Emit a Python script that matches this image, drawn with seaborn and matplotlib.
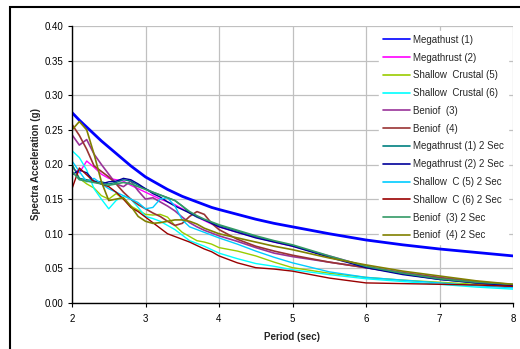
import matplotlib
matplotlib.use('Agg')
import matplotlib.pyplot as plt
import seaborn as sns
from matplotlib.patches import Rectangle

# Periodo (sec)
periodos = [2.0, 2.1, 2.2, 2.3, 2.4, 2.5, 2.6, 2.7, 2.8, 2.9, 3.0, 3.1, 3.2, 3.3, 3.4, 3.5,
            3.6, 3.7, 3.8, 3.9, 4.0, 4.25, 4.5, 4.75, 5.0, 5.5, 6.0, 6.5, 7.0, 7.5, 8.0]

# Aceleracion espectral (g)
megathust_1 = [.275, .264, .254, .244, .234, .225, .216, .207, .198, .190, .182, .176, .170, .164, .159, .154,
               .150, .146, .142, .138, .135, .128, .121, .115, .110, .100, .091, .084, .078, .073, .068]
megathrust_2 = [.195, .188, .205, .196, .186, .180, .178, .176, .170, .165, .160, .155, .150, .146, .142, .136,
                .130, .124, .119, .114, .110, .102, .095, .088, .082, .068, .053, .044, .036, .030, .025]
shallow_5 = [.200, .180, .172, .166, .155, .150, .158, .150, .140, .134, .128, .127, .128, .124, .112, .102,
             .096, .090, .088, .085, .080, .075, .068, .059, .051, .043, .037, .033, .030, .027, .025]
shallow_6 = [.220, .210, .192, .165, .150, .136, .148, .155, .150, .138, .125, .122, .118, .112, .106, .098,
             .090, .086, .082, .077, .072, .064, .057, .053, .048, .041, .035, .031, .027, .023, .020]
beniof_3 = [.243, .228, .236, .215, .200, .186, .172, .168, .176, .162, .150, .152, .146, .140, .133, .124,
            .116, .110, .105, .101, .097, .089, .080, .072, .067, .059, .051, .044, .037, .031, .026]
beniof_4 = [.258, .242, .222, .198, .190, .182, .172, .160, .150, .142, .136, .130, .125, .118, .112, .115,
            .125, .132, .128, .115, .106, .092, .082, .075, .069, .059, .051, .043, .036, .029, .023]
megathrust_1_2s = [.200, .180, .178, .176, .175, .172, .174, .178, .176, .170, .165, .160, .156, .152, .148, .140,
                   .130, .124, .120, .116, .112, .104, .096, .089, .083, .067, .052, .042, .034, .029, .026]
megathrust_2_2s = [.185, .192, .188, .176, .172, .175, .176, .180, .178, .172, .165, .158, .153, .146, .140, .135,
                   .130, .125, .120, .115, .110, .102, .094, .088, .082, .066, .051, .041, .034, .029, .025]
shallow_5_2s = [.205, .190, .175, .180, .172, .165, .160, .155, .150, .145, .136, .138, .150, .152, .140, .120,
                .110, .106, .102, .098, .094, .085, .075, .066, .058, .045, .037, .033, .029, .025, .022]
shallow_6_2s = [.165, .195, .185, .175, .172, .168, .160, .150, .138, .132, .124, .116, .108, .100, .096, .092,
                .088, .083, .078, .074, .068, .058, .051, .049, .046, .036, .029, .028, .027, .026, .024]
beniof_3_2s = [.190, .178, .176, .174, .172, .170, .172, .174, .172, .168, .164, .160, .156, .152, .148, .140,
               .132, .126, .121, .117, .113, .105, .097, .090, .084, .068, .053, .043, .035, .030, .027]
beniof_4_2s = [.250, .262, .250, .215, .175, .148, .150, .152, .140, .125, .118, .115, .116, .118, .120, .120,
               .118, .114, .108, .104, .100, .094, .088, .082, .077, .065, .055, .046, .039, .032, .027]

series = [
    ('Megathust (1)', megathust_1, '#0000FF', 2.0),
    ('Megathrust (2)', megathrust_2, '#FF00FF', 1.0),
    ('Shallow  Crustal (5)', shallow_5, '#99CC00', 1.0),
    ('Shallow  Crustal (6)', shallow_6, '#00FFFF', 1.0),
    ('Beniof  (3)', beniof_3, '#993399', 1.2),
    ('Beniof  (4)', beniof_4, '#993333', 1.2),
    ('Megathrust (1) 2 Sec', megathrust_1_2s, '#008080', 1.0),
    ('Megathrust (2) 2 Sec', megathrust_2_2s, '#000099', 1.0),
    ('Shallow  C (5) 2 Sec', shallow_5_2s, '#00CCFF', 1.0),
    ('Shallow  C (6) 2 Sec', shallow_6_2s, '#990000', 1.0),
    ('Beniof  (3) 2 Sec', beniof_3_2s, '#339966', 1.2),
    ('Beniof  (4) 2 Sec', beniof_4_2s, '#808000', 1.2),
]

sns.set_style('white')
plt.rcParams['font.family'] = ['Liberation Sans', 'DejaVu Sans']

fig = plt.figure(figsize=(5.2, 3.49), dpi=100)
ax = fig.add_axes([72 / 520, 1 - 303 / 349, 441 / 520, 277 / 349])

for nombre, valores, color, lw in series:
    sns.lineplot(x=periodos, y=valores, color=color, linewidth=lw, label=nombre, ax=ax)

ax.set_xlim(2, 8)
ax.set_ylim(0, 0.40)
ax.set_xticks(range(2, 9))
ax.set_yticks([i * 0.05 for i in range(9)])
ax.set_yticklabels([f'{i * 0.05:.2f}' for i in range(9)])
ax.grid(True, color='#C0C0C0', linewidth=0.9)
ax.set_axisbelow(True)
for lado in ['top', 'right']:
    ax.spines[lado].set_visible(False)
for lado in ['left', 'bottom']:
    ax.spines[lado].set_color('black')
    ax.spines[lado].set_linewidth(1.0)
ax.tick_params(axis='both', labelsize=7, colors='black', length=3, width=0.8, direction='out',
               left=True, bottom=True, pad=3)
ax.tick_params(axis='x', pad=5)
ax.set_xlabel('Period (sec)', fontsize=7, fontweight='bold', labelpad=6)
ax.set_ylabel('Spectra Acceleration (g)', fontsize=7, fontweight='bold', labelpad=3)

leg = ax.legend(loc='upper right', bbox_to_anchor=(1.0, 1.0), fontsize=7, frameon=True,
                facecolor='white', edgecolor='white', framealpha=1, fancybox=False,
                handlelength=2.8, handletextpad=0.35, labelspacing=0.8, borderpad=0.4)
leg.set_zorder(1.5)  # las curvas pasan por encima del fondo de la leyenda
for linea in leg.get_lines():
    linea.set_linewidth(1.2)

# marco exterior del grafico
fig.patches.append(Rectangle((10 / 520, -0.05), 1.0, 1 - 7 / 349 + 0.05, transform=fig.transFigure,
                             fill=False, edgecolor='black', linewidth=1.5))

plt.savefig('out.png', dpi=100)
